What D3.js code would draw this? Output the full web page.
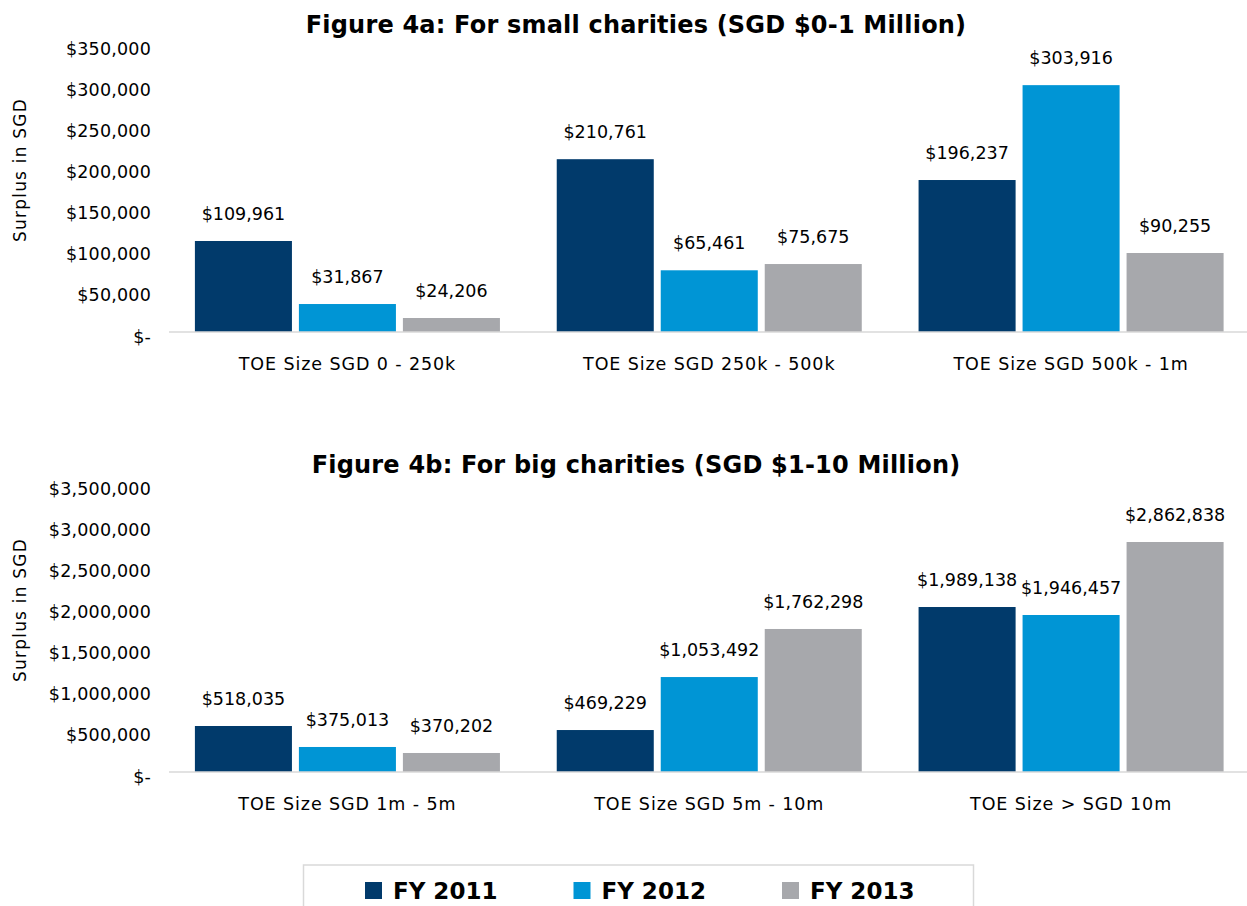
<!DOCTYPE html>
<html>
<head>
<meta charset="utf-8">
<script src="https://cdn.jsdelivr.net/npm/d3@7"></script>
<style>
  body { margin: 0; background: #fff; }
  text { font-family: "DejaVu Sans", sans-serif; fill: #000; }
</style>
</head>
<body>
<div class="chart"></div>
<script>
// canvas
var width = 1247;
var height = 906;

// data
var years = ["FY 2011", "FY 2012", "FY 2013"];
var colorSpectrum = ["#013A6B", "#0095D5", "#A7A8AC"];

// figure 4a
var smallTitle = "Figure 4a: For small charities (SGD $0-1 Million)";
var smallCats = ["TOE Size SGD 0 - 250k", "TOE Size SGD 250k - 500k", "TOE Size SGD 500k - 1m"];
// bar heights as drawn in the picture
var smallValues = [
  [110600, 34000, 17000],
  [210000, 75000, 82600],
  [184700, 300000, 96000]
];
// printed data labels
var smallLabels = [
  ["$109,961", "$31,867", "$24,206"],
  ["$210,761", "$65,461", "$75,675"],
  ["$196,237", "$303,916", "$90,255"]
];
var smallTicks = [0, 50000, 100000, 150000, 200000, 250000, 300000, 350000];

// figure 4b
var bigTitle = "Figure 4b: For big charities (SGD $1-10 Million)";
var bigCats = ["TOE Size SGD 1m - 5m", "TOE Size SGD 5m - 10m", "TOE Size > SGD 10m"];
var bigValues = [
  [559000, 304000, 231000],
  [510000, 1154000, 1738000],
  [2005000, 1908000, 2795000]
];
var bigLabels = [
  ["$518,035", "$375,013", "$370,202"],
  ["$469,229", "$1,053,492", "$1,762,298"],
  ["$1,989,138", "$1,946,457", "$2,862,838"]
];
var bigTicks = [0, 500000, 1000000, 1500000, 2000000, 2500000, 3000000, 3500000];

const svg = d3.select(".chart")
              .append("svg")
              .attr("width", width)
              .attr("height", height);

var fmt = d3.format(",");

function drawPanel(top, title, cats, values, labels, ticks) {
  var g = svg.append("g")
             .attr("transform", "translate(0," + top + ")");

  var x0 = d3.scaleBand()
             .domain(cats)
             .range([166.5, 1252])
             .paddingInner(0.157)
             .paddingOuter(0.0785);

  var x1 = d3.scaleBand()
             .domain(years)
             .range([0, x0.bandwidth()])
             .paddingInner(0.067);

  var y = d3.scaleLinear()
            .domain([0, ticks[ticks.length - 1]])
            .range([332, 44]);

  // title
  g.append("text")
   .attr("x", 636)
   .attr("y", 33)
   .attr("text-anchor", "middle")
   .style("font-size", "24px")
   .style("font-weight", "bold")
   .style("letter-spacing", "0.2px")
   .text(title);

  // y axis labels
  const yAxis = d3.axisLeft(y)
                  .tickValues(ticks)
                  .tickSize(0)
                  .tickPadding(0)
                  .tickFormat(d => d === 0 ? "$-" : "$" + fmt(d));

  g.append("g")
   .attr("transform", "translate(151,0)")
   .call(yAxis)
   .call(a => a.select(".domain").remove())
   .call(a => a.selectAll(".tick text")
               .attr("dy", "10")
               .style("font-size", "17.5px")
               .style("letter-spacing", "0.2px")
               .style("font-family", "DejaVu Sans, sans-serif")
               .attr("fill", "#000"));

  // axis title
  g.append("text")
   .attr("transform", "translate(26,170) rotate(-90)")
   .attr("text-anchor", "middle")
   .style("font-size", "17px")
   .style("letter-spacing", "1.2px")
   .text("Surplus in SGD");

  // bars
  var groups = g.selectAll(".grp")
                .data(cats)
                .enter()
                .append("g")
                .attr("class", "grp")
                .attr("transform", d => "translate(" + x0(d) + ",0)");

  groups.selectAll("rect")
        .data((d, i) => values[i].map((v, j) => ({ year: years[j], value: v, label: labels[i][j] })))
        .enter()
        .append("rect")
        .attr("x", d => x1(d.year))
        .attr("y", d => y(d.value))
        .attr("width", x1.bandwidth())
        .attr("height", d => y(0) - y(d.value))
        .attr("fill", (d, j) => colorSpectrum[j]);

  groups.selectAll(".lbl")
        .data((d, i) => values[i].map((v, j) => ({ year: years[j], value: v, label: labels[i][j] })))
        .enter()
        .append("text")
        .attr("class", "lbl")
        .attr("x", d => x1(d.year) + x1.bandwidth() / 2)
        .attr("y", d => y(d.value) - 21)
        .attr("text-anchor", "middle")
        .style("font-size", "17.5px")
        .text(d => d.label);

  // baseline
  g.append("line")
   .attr("x1", 169)
   .attr("x2", width)
   .attr("y1", y(0))
   .attr("y2", y(0))
   .attr("stroke", "#d9d9d9")
   .attr("stroke-width", 1.5);

  // category labels
  g.selectAll(".cat")
   .data(cats)
   .enter()
   .append("text")
   .attr("class", "cat")
   .attr("x", d => x0(d) + x0.bandwidth() / 2)
   .attr("y", 369.5)
   .attr("text-anchor", "middle")
   .style("font-size", "17.5px")
   .style("letter-spacing", "0.9px")
   .text(d => d);
}

drawPanel(0, smallTitle, smallCats, smallValues, smallLabels, smallTicks);
drawPanel(440, bigTitle, bigCats, bigValues, bigLabels, bigTicks);

// legend
var legend = svg.append("g").attr("id", "legend");

legend.append("rect")
      .attr("x", 303.5)
      .attr("y", 865)
      .attr("width", 670)
      .attr("height", 60)
      .attr("fill", "#fff")
      .attr("stroke", "#d9d9d9")
      .attr("stroke-width", 1.5);

var lx = d3.scalePoint()
           .domain(years)
           .range([365, 782]);

var items = legend.selectAll(".item")
                  .data(years)
                  .enter()
                  .append("g")
                  .attr("class", "item")
                  .attr("transform", d => "translate(" + lx(d) + ",882)");

items.append("rect")
     .attr("width", 17)
     .attr("height", 17)
     .attr("fill", (d, i) => colorSpectrum[i]);

items.append("text")
     .attr("x", 28)
     .attr("y", 17)
     .style("font-size", "23px")
     .style("font-weight", "bold")
     .text(d => d);
</script>
</body>
</html>
